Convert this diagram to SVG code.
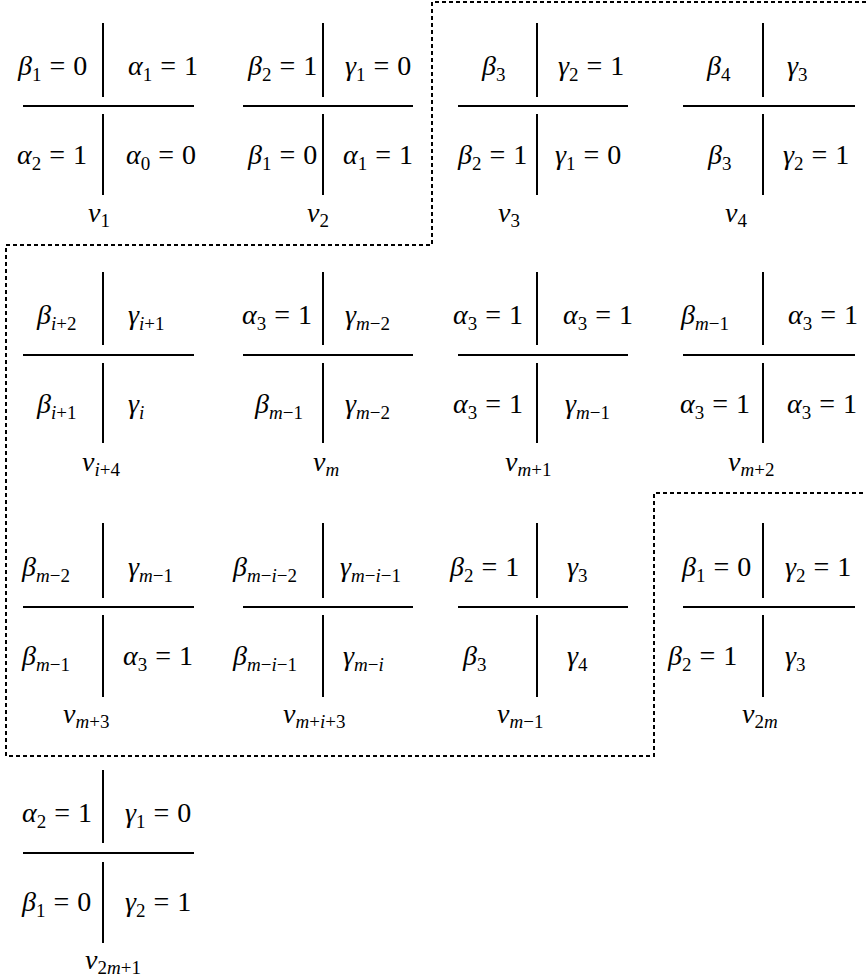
<svg xmlns="http://www.w3.org/2000/svg" width="866" height="979" viewBox="0 0 866 979">
<rect width="866" height="979" fill="#fff"/>
<g id="region" fill="none" stroke="#000" stroke-width="2" stroke-dasharray="4 3">
<path d="M866,2 H432 V245 H6 V756 H654 V493 H866"/>
</g>
<g id="v1">
<path d="M103,23V97M23,106H194M103,114V195" stroke="#000" stroke-width="2" fill="none"/>
<text font-family="Liberation Serif" font-size="28" x="18" y="75"><tspan font-style="italic">β</tspan><tspan font-size="19" dy="6">1</tspan><tspan dy="-6" dx="8">=</tspan><tspan dx="8">0</tspan></text>
<text font-family="Liberation Serif" font-size="28" x="128" y="75"><tspan font-style="italic">α</tspan><tspan font-size="19" dy="6">1</tspan><tspan dy="-6" dx="8">=</tspan><tspan dx="8">1</tspan></text>
<text font-family="Liberation Serif" font-size="28" x="17" y="164"><tspan font-style="italic">α</tspan><tspan font-size="19" dy="6">2</tspan><tspan dy="-6" dx="8">=</tspan><tspan dx="8">1</tspan></text>
<text font-family="Liberation Serif" font-size="28" x="126" y="164"><tspan font-style="italic">α</tspan><tspan font-size="19" dy="6">0</tspan><tspan dy="-6" dx="8">=</tspan><tspan dx="8">0</tspan></text>
<text font-family="Liberation Serif" font-size="28" x="88" y="222"><tspan font-style="italic">v</tspan><tspan font-size="19" dy="5">1</tspan></text>
</g>
<g id="v2">
<path d="M323,23V97M243,106H413M323,114V195" stroke="#000" stroke-width="2" fill="none"/>
<text font-family="Liberation Serif" font-size="28" x="248" y="75"><tspan font-style="italic">β</tspan><tspan font-size="19" dy="6">2</tspan><tspan dy="-6" dx="8">=</tspan><tspan dx="8">1</tspan></text>
<text font-family="Liberation Serif" font-size="28" x="345" y="75"><tspan font-style="italic">γ</tspan><tspan font-size="19" dy="6">1</tspan><tspan dy="-6" dx="8">=</tspan><tspan dx="8">0</tspan></text>
<text font-family="Liberation Serif" font-size="28" x="248" y="164"><tspan font-style="italic">β</tspan><tspan font-size="19" dy="6">1</tspan><tspan dy="-6" dx="8">=</tspan><tspan dx="8">0</tspan></text>
<text font-family="Liberation Serif" font-size="28" x="343" y="164"><tspan font-style="italic">α</tspan><tspan font-size="19" dy="6">1</tspan><tspan dy="-6" dx="8">=</tspan><tspan dx="8">1</tspan></text>
<text font-family="Liberation Serif" font-size="28" x="307" y="222"><tspan font-style="italic">v</tspan><tspan font-size="19" dy="5">2</tspan></text>
</g>
<g id="v3">
<path d="M537,23V97M458,106H628M537,114V195" stroke="#000" stroke-width="2" fill="none"/>
<text font-family="Liberation Serif" font-size="28" x="482" y="75"><tspan font-style="italic">β</tspan><tspan font-size="19" dy="6">3</tspan></text>
<text font-family="Liberation Serif" font-size="28" x="558" y="75"><tspan font-style="italic">γ</tspan><tspan font-size="19" dy="6">2</tspan><tspan dy="-6" dx="8">=</tspan><tspan dx="8">1</tspan></text>
<text font-family="Liberation Serif" font-size="28" x="458" y="164"><tspan font-style="italic">β</tspan><tspan font-size="19" dy="6">2</tspan><tspan dy="-6" dx="8">=</tspan><tspan dx="8">1</tspan></text>
<text font-family="Liberation Serif" font-size="28" x="555" y="164"><tspan font-style="italic">γ</tspan><tspan font-size="19" dy="6">1</tspan><tspan dy="-6" dx="8">=</tspan><tspan dx="8">0</tspan></text>
<text font-family="Liberation Serif" font-size="28" x="498" y="222"><tspan font-style="italic">v</tspan><tspan font-size="19" dy="5">3</tspan></text>
</g>
<g id="v4">
<path d="M763,23V97M683,106H855M763,114V195" stroke="#000" stroke-width="2" fill="none"/>
<text font-family="Liberation Serif" font-size="28" x="707" y="75"><tspan font-style="italic">β</tspan><tspan font-size="19" dy="6">4</tspan></text>
<text font-family="Liberation Serif" font-size="28" x="787" y="75"><tspan font-style="italic">γ</tspan><tspan font-size="19" dy="6">3</tspan></text>
<text font-family="Liberation Serif" font-size="28" x="708" y="164"><tspan font-style="italic">β</tspan><tspan font-size="19" dy="6">3</tspan></text>
<text font-family="Liberation Serif" font-size="28" x="783" y="164"><tspan font-style="italic">γ</tspan><tspan font-size="19" dy="6">2</tspan><tspan dy="-6" dx="8">=</tspan><tspan dx="8">1</tspan></text>
<text font-family="Liberation Serif" font-size="28" x="725" y="222"><tspan font-style="italic">v</tspan><tspan font-size="19" dy="5">4</tspan></text>
</g>
<g id="vi4">
<path d="M103,272V345M23,355H194M103,363V443" stroke="#000" stroke-width="2" fill="none"/>
<text font-family="Liberation Serif" font-size="28" x="37" y="324"><tspan font-style="italic">β</tspan><tspan font-size="19" dy="6"><tspan font-style="italic">i</tspan>+2</tspan></text>
<text font-family="Liberation Serif" font-size="28" x="128" y="324"><tspan font-style="italic">γ</tspan><tspan font-size="19" dy="6"><tspan font-style="italic">i</tspan>+1</tspan></text>
<text font-family="Liberation Serif" font-size="28" x="37" y="413"><tspan font-style="italic">β</tspan><tspan font-size="19" dy="6"><tspan font-style="italic">i</tspan>+1</tspan></text>
<text font-family="Liberation Serif" font-size="28" x="128" y="413"><tspan font-style="italic">γ</tspan><tspan font-size="19" font-style="italic" dy="6">i</tspan></text>
<text font-family="Liberation Serif" font-size="28" x="82" y="471"><tspan font-style="italic">v</tspan><tspan font-size="19" dy="5"><tspan font-style="italic">i</tspan>+4</tspan></text>
</g>
<g id="vm">
<path d="M323,272V345M243,355H413M323,363V443" stroke="#000" stroke-width="2" fill="none"/>
<text font-family="Liberation Serif" font-size="28" x="242" y="324"><tspan font-style="italic">α</tspan><tspan font-size="19" dy="6">3</tspan><tspan dy="-6" dx="8">=</tspan><tspan dx="8">1</tspan></text>
<text font-family="Liberation Serif" font-size="28" x="345" y="324"><tspan font-style="italic">γ</tspan><tspan font-size="19" dy="6"><tspan font-style="italic">m</tspan>−2</tspan></text>
<text font-family="Liberation Serif" font-size="28" x="255" y="413"><tspan font-style="italic">β</tspan><tspan font-size="19" dy="6"><tspan font-style="italic">m</tspan>−1</tspan></text>
<text font-family="Liberation Serif" font-size="28" x="345" y="413"><tspan font-style="italic">γ</tspan><tspan font-size="19" dy="6"><tspan font-style="italic">m</tspan>−2</tspan></text>
<text font-family="Liberation Serif" font-size="28" x="313" y="471"><tspan font-style="italic">v</tspan><tspan font-size="19" font-style="italic" dy="5">m</tspan></text>
</g>
<g id="vm1">
<path d="M537,272V345M458,355H628M537,363V443" stroke="#000" stroke-width="2" fill="none"/>
<text font-family="Liberation Serif" font-size="28" x="453" y="324"><tspan font-style="italic">α</tspan><tspan font-size="19" dy="6">3</tspan><tspan dy="-6" dx="8">=</tspan><tspan dx="8">1</tspan></text>
<text font-family="Liberation Serif" font-size="28" x="563" y="324"><tspan font-style="italic">α</tspan><tspan font-size="19" dy="6">3</tspan><tspan dy="-6" dx="8">=</tspan><tspan dx="8">1</tspan></text>
<text font-family="Liberation Serif" font-size="28" x="453" y="413"><tspan font-style="italic">α</tspan><tspan font-size="19" dy="6">3</tspan><tspan dy="-6" dx="8">=</tspan><tspan dx="8">1</tspan></text>
<text font-family="Liberation Serif" font-size="28" x="565" y="413"><tspan font-style="italic">γ</tspan><tspan font-size="19" dy="6"><tspan font-style="italic">m</tspan>−1</tspan></text>
<text font-family="Liberation Serif" font-size="28" x="505" y="471"><tspan font-style="italic">v</tspan><tspan font-size="19" dy="5"><tspan font-style="italic">m</tspan>+1</tspan></text>
</g>
<g id="vm2">
<path d="M763,272V345M683,355H855M763,363V443" stroke="#000" stroke-width="2" fill="none"/>
<text font-family="Liberation Serif" font-size="28" x="681" y="324"><tspan font-style="italic">β</tspan><tspan font-size="19" dy="6"><tspan font-style="italic">m</tspan>−1</tspan></text>
<text font-family="Liberation Serif" font-size="28" x="788" y="324"><tspan font-style="italic">α</tspan><tspan font-size="19" dy="6">3</tspan><tspan dy="-6" dx="8">=</tspan><tspan dx="8">1</tspan></text>
<text font-family="Liberation Serif" font-size="28" x="680" y="413"><tspan font-style="italic">α</tspan><tspan font-size="19" dy="6">3</tspan><tspan dy="-6" dx="8">=</tspan><tspan dx="8">1</tspan></text>
<text font-family="Liberation Serif" font-size="28" x="787" y="413"><tspan font-style="italic">α</tspan><tspan font-size="19" dy="6">3</tspan><tspan dy="-6" dx="8">=</tspan><tspan dx="8">1</tspan></text>
<text font-family="Liberation Serif" font-size="28" x="728" y="471"><tspan font-style="italic">v</tspan><tspan font-size="19" dy="5"><tspan font-style="italic">m</tspan>+2</tspan></text>
</g>
<g id="vm3">
<path d="M103,523V598M23,607H194M103,615V697" stroke="#000" stroke-width="2" fill="none"/>
<text font-family="Liberation Serif" font-size="28" x="22" y="576"><tspan font-style="italic">β</tspan><tspan font-size="19" dy="6"><tspan font-style="italic">m</tspan>−2</tspan></text>
<text font-family="Liberation Serif" font-size="28" x="128" y="576"><tspan font-style="italic">γ</tspan><tspan font-size="19" dy="6"><tspan font-style="italic">m</tspan>−1</tspan></text>
<text font-family="Liberation Serif" font-size="28" x="22" y="665"><tspan font-style="italic">β</tspan><tspan font-size="19" dy="6"><tspan font-style="italic">m</tspan>−1</tspan></text>
<text font-family="Liberation Serif" font-size="28" x="123" y="665"><tspan font-style="italic">α</tspan><tspan font-size="19" dy="6">3</tspan><tspan dy="-6" dx="8">=</tspan><tspan dx="8">1</tspan></text>
<text font-family="Liberation Serif" font-size="28" x="63" y="723"><tspan font-style="italic">v</tspan><tspan font-size="19" dy="5"><tspan font-style="italic">m</tspan>+3</tspan></text>
</g>
<g id="vmi3">
<path d="M323,523V598M243,607H413M323,615V697" stroke="#000" stroke-width="2" fill="none"/>
<text font-family="Liberation Serif" font-size="28" x="233" y="576"><tspan font-style="italic">β</tspan><tspan font-size="19" dy="6"><tspan font-style="italic">m</tspan>−<tspan font-style="italic">i</tspan>−2</tspan></text>
<text font-family="Liberation Serif" font-size="28" x="340" y="576"><tspan font-style="italic">γ</tspan><tspan font-size="19" dy="6"><tspan font-style="italic">m</tspan>−<tspan font-style="italic">i</tspan>−1</tspan></text>
<text font-family="Liberation Serif" font-size="28" x="233" y="665"><tspan font-style="italic">β</tspan><tspan font-size="19" dy="6"><tspan font-style="italic">m</tspan>−<tspan font-style="italic">i</tspan>−1</tspan></text>
<text font-family="Liberation Serif" font-size="28" x="343" y="665"><tspan font-style="italic">γ</tspan><tspan font-size="19" dy="6"><tspan font-style="italic">m</tspan>−<tspan font-style="italic">i</tspan></tspan></text>
<text font-family="Liberation Serif" font-size="28" x="283" y="723"><tspan font-style="italic">v</tspan><tspan font-size="19" dy="5"><tspan font-style="italic">m</tspan>+<tspan font-style="italic">i</tspan>+3</tspan></text>
</g>
<g id="vm-1">
<path d="M537,523V598M458,607H628M537,615V697" stroke="#000" stroke-width="2" fill="none"/>
<text font-family="Liberation Serif" font-size="28" x="450" y="576"><tspan font-style="italic">β</tspan><tspan font-size="19" dy="6">2</tspan><tspan dy="-6" dx="8">=</tspan><tspan dx="8">1</tspan></text>
<text font-family="Liberation Serif" font-size="28" x="567" y="576"><tspan font-style="italic">γ</tspan><tspan font-size="19" dy="6">3</tspan></text>
<text font-family="Liberation Serif" font-size="28" x="463" y="665"><tspan font-style="italic">β</tspan><tspan font-size="19" dy="6">3</tspan></text>
<text font-family="Liberation Serif" font-size="28" x="567" y="665"><tspan font-style="italic">γ</tspan><tspan font-size="19" dy="6">4</tspan></text>
<text font-family="Liberation Serif" font-size="28" x="497" y="723"><tspan font-style="italic">v</tspan><tspan font-size="19" dy="5"><tspan font-style="italic">m</tspan>−1</tspan></text>
</g>
<g id="v2m">
<path d="M763,523V598M683,607H855M763,615V697" stroke="#000" stroke-width="2" fill="none"/>
<text font-family="Liberation Serif" font-size="28" x="682" y="576"><tspan font-style="italic">β</tspan><tspan font-size="19" dy="6">1</tspan><tspan dy="-6" dx="8">=</tspan><tspan dx="8">0</tspan></text>
<text font-family="Liberation Serif" font-size="28" x="785" y="576"><tspan font-style="italic">γ</tspan><tspan font-size="19" dy="6">2</tspan><tspan dy="-6" dx="8">=</tspan><tspan dx="8">1</tspan></text>
<text font-family="Liberation Serif" font-size="28" x="668" y="665"><tspan font-style="italic">β</tspan><tspan font-size="19" dy="6">2</tspan><tspan dy="-6" dx="8">=</tspan><tspan dx="8">1</tspan></text>
<text font-family="Liberation Serif" font-size="28" x="785" y="665"><tspan font-style="italic">γ</tspan><tspan font-size="19" dy="6">3</tspan></text>
<text font-family="Liberation Serif" font-size="28" x="742" y="723"><tspan font-style="italic">v</tspan><tspan font-size="19" dy="5">2<tspan font-style="italic">m</tspan></tspan></text>
</g>
<g id="v2m1">
<path d="M103,770V843M23,853H194M103,862V943" stroke="#000" stroke-width="2" fill="none"/>
<text font-family="Liberation Serif" font-size="28" x="22" y="822"><tspan font-style="italic">α</tspan><tspan font-size="19" dy="6">2</tspan><tspan dy="-6" dx="8">=</tspan><tspan dx="8">1</tspan></text>
<text font-family="Liberation Serif" font-size="28" x="125" y="822"><tspan font-style="italic">γ</tspan><tspan font-size="19" dy="6">1</tspan><tspan dy="-6" dx="8">=</tspan><tspan dx="8">0</tspan></text>
<text font-family="Liberation Serif" font-size="28" x="22" y="911"><tspan font-style="italic">β</tspan><tspan font-size="19" dy="6">1</tspan><tspan dy="-6" dx="8">=</tspan><tspan dx="8">0</tspan></text>
<text font-family="Liberation Serif" font-size="28" x="125" y="911"><tspan font-style="italic">γ</tspan><tspan font-size="19" dy="6">2</tspan><tspan dy="-6" dx="8">=</tspan><tspan dx="8">1</tspan></text>
<text font-family="Liberation Serif" font-size="28" x="85" y="969"><tspan font-style="italic">v</tspan><tspan font-size="19" dy="5">2<tspan font-style="italic">m</tspan>+1</tspan></text>
</g>
</svg>
